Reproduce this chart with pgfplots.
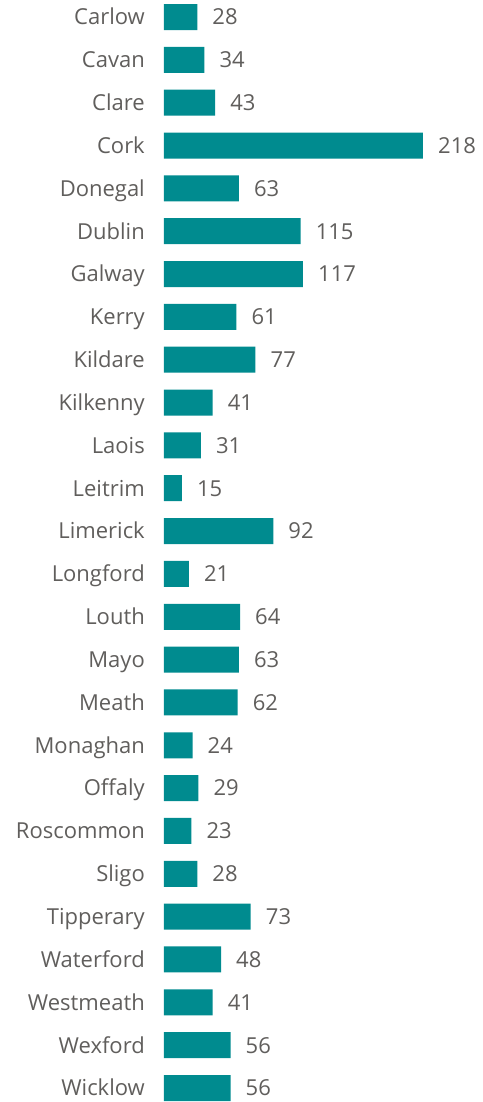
\documentclass[border=0pt]{standalone}
\usepackage{pgfplots}
\pgfplotsset{compat=1.18}
\usepackage{fontspec}
\setmainfont{Open Sans}
\definecolor{barc}{HTML}{008B8F}
\definecolor{txt}{HTML}{605E5C}
\pgfplotstableread{
idx val
0 28
1 34
2 43
3 218
4 63
5 115
6 117
7 61
8 77
9 41
10 31
11 15
12 92
13 21
14 64
15 63
16 62
17 24
18 29
19 23
20 28
21 73
22 48
23 41
24 56
25 56
}\datatable
\begin{document}
\begin{tikzpicture}
\begin{axis}[
  xbar, scale only axis, width=318pt, height=1102pt,
  xmin=0, xmax=267.7, ymin=-0.397, ymax=25.327, y dir=reverse,
  axis line style={draw=none}, xtick=\empty, major tick length=0pt,
  ytick={0,...,25},
  yticklabels={Carlow,Cavan,Clare,Cork,Donegal,Dublin,Galway,Kerry,Kildare,Kilkenny,Laois,Leitrim,Limerick,Longford,Louth,Mayo,Meath,Monaghan,Offaly,Roscommon,Sligo,Tipperary,Waterford,Westmeath,Wexford,Wicklow},
  yticklabel style={font=\fontsize{22pt}{26pt}\selectfont, text=txt, anchor=east, inner sep=0pt, text height=15.7pt, text depth=0pt, xshift=-19pt},
  bar width=26pt, bar shift=0pt, clip=false,
  /pgf/number format/assume math mode=true,
  nodes near coords,
  nodes near coords style={font=\fontsize{22pt}{26pt}\selectfont, text=txt, anchor=west, inner sep=0pt, text height=15.7pt, text depth=0pt, xshift=15pt},
]
\addplot[fill=barc, draw=none] table[x=val, y=idx] {\datatable};
\end{axis}
\pgfresetboundingbox
\path[use as bounding box] ([xshift=-164pt]current axis.south west) rectangle (current axis.north east);
\end{tikzpicture}
\end{document}
